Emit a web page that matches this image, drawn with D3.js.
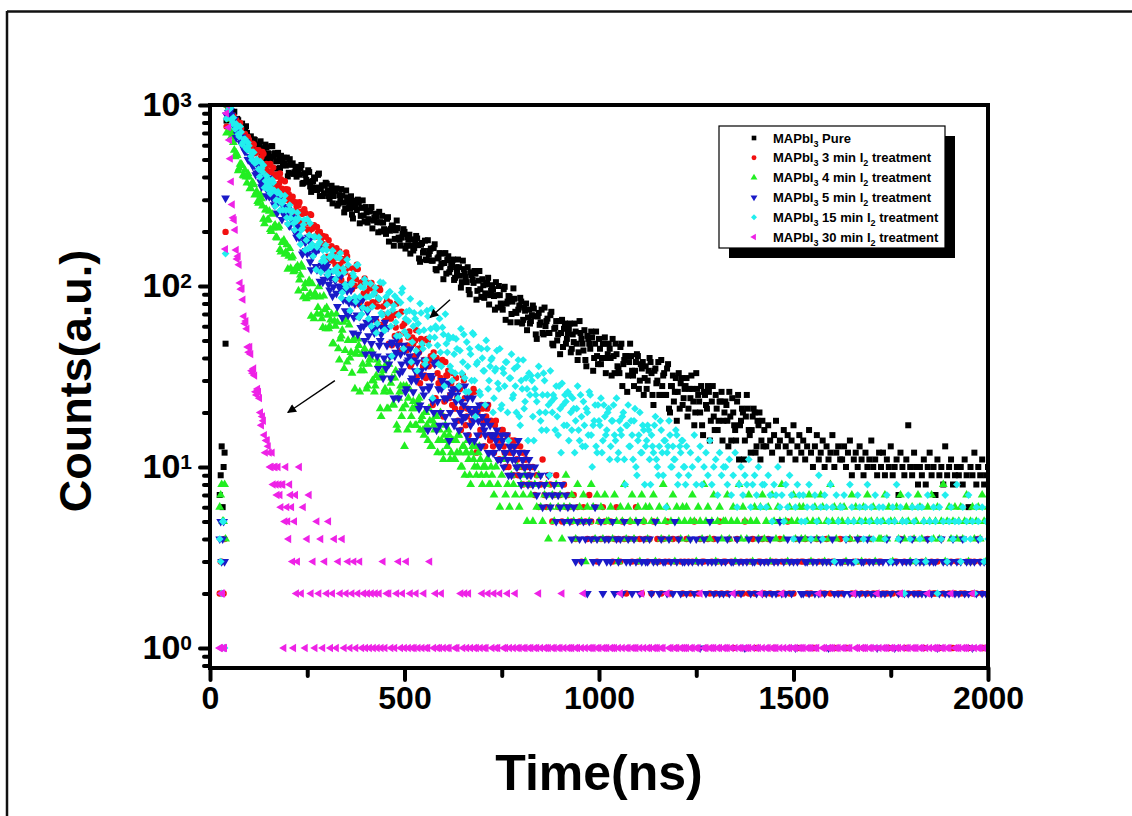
<!DOCTYPE html>
<html lang="en">
<head>
<meta charset="UTF-8" />
<title>TRPL decay of MAPbI3 films</title>
<script src="https://cdn.jsdelivr.net/npm/d3@7"></script>
<style>
  body { margin: 0; background: #fff; }
  svg { display: block; font-family: "Liberation Sans", Arial, Helvetica, sans-serif; }
</style>
</head>
<body>
<div id="chart"></div>
<script>
// channel times (ns), even channels
const timeNs = [
  25,30,35,40,45,50,55,60,65,70,75,80,85,90,95,100,105,110,115,120,
  125,130,135,140,145,150,155,160,165,170,175,180,185,190,195,200,205,210,215,220,
  225,230,235,240,245,250,255,260,265,270,275,280,285,290,295,300,305,310,315,320,
  325,330,335,340,345,350,355,360,365,370,375,380,385,390,395,400,405,410,415,420,
  425,430,435,440,445,450,455,460,465,470,475,480,485,490,495,500,505,510,515,520,
  525,530,535,540,545,550,555,560,565,570,575,580,585,590,595,600,605,610,615,620,
  625,630,635,640,645,650,655,660,665,670,675,680,685,690,695,700,705,710,715,720,
  725,730,735,740,745,750,755,760,765,770,775,780,785,790,795,800,805,810,815,820,
  825,830,835,840,845,850,855,860,865,870,875,880,885,890,895,900,905,910,915,920,
  925,930,935,940,945,950,955,960,965,970,975,980,985,990,995,1000,1005,1010,1015,1020,
  1025,1030,1035,1040,1045,1050,1055,1060,1065,1070,1075,1080,1085,1090,1095,1100,1105,1110,1115,1120,
  1125,1130,1135,1140,1145,1150,1155,1160,1165,1170,1175,1180,1185,1190,1195,1200,1205,1210,1215,1220,
  1225,1230,1235,1240,1245,1250,1255,1260,1265,1270,1275,1280,1285,1290,1295,1300,1305,1310,1315,1320,
  1325,1330,1335,1340,1345,1350,1355,1360,1365,1370,1375,1380,1385,1390,1395,1400,1405,1410,1415,1420,
  1425,1430,1435,1440,1445,1450,1455,1460,1465,1470,1475,1480,1485,1490,1495,1500,1505,1510,1515,1520,
  1525,1530,1535,1540,1545,1550,1555,1560,1565,1570,1575,1580,1585,1590,1595,1600,1605,1610,1615,1620,
  1625,1630,1635,1640,1645,1650,1655,1660,1665,1670,1675,1680,1685,1690,1695,1700,1705,1710,1715,1720,
  1725,1730,1735,1740,1745,1750,1755,1760,1765,1770,1775,1780,1785,1790,1795,1800,1805,1810,1815,1820,
  1825,1830,1835,1840,1845,1850,1855,1860,1865,1870,1875,1880,1885,1890,1895,1900,1905,1910,1915,1920,
  1925,1930,1935,1940,1945,1950,1955,1960,1965,1970,1975,1980,1985,1990,1995,2000
];
// odd channels, read in the decay part only
const timeNsOdd = [
  27.5,32.5,37.5,42.5,47.5,52.5,57.5,62.5,67.5,72.5,77.5,82.5,87.5,92.5,97.5,102.5,107.5,112.5,117.5,122.5,
  127.5,132.5,137.5,142.5,147.5,152.5,157.5,162.5,167.5,172.5,177.5,182.5,187.5,192.5,197.5,202.5,207.5,212.5,217.5,222.5,
  227.5,232.5,237.5,242.5,247.5,252.5,257.5,262.5,267.5,272.5,277.5,282.5,287.5,292.5,297.5,302.5,307.5,312.5,317.5,322.5,
  327.5,332.5,337.5,342.5,347.5,352.5,357.5,362.5,367.5,372.5,377.5,382.5,387.5,392.5,397.5,402.5,407.5,412.5,417.5,422.5,
  427.5,432.5,437.5,442.5,447.5,452.5,457.5,462.5,467.5,472.5,477.5,482.5,487.5,492.5,497.5,502.5,507.5,512.5,517.5,522.5,
  527.5,532.5,537.5,542.5,547.5,552.5,557.5,562.5,567.5,572.5,577.5,582.5,587.5,592.5,597.5,602.5,607.5,612.5,617.5,622.5,
  627.5,632.5,637.5,642.5,647.5,652.5,657.5,662.5,667.5,672.5,677.5,682.5,687.5,692.5,697.5,702.5,707.5,712.5,717.5,722.5,
  727.5,732.5,737.5,742.5,747.5,752.5,757.5,762.5,767.5,772.5,777.5,782.5,787.5,792.5,797.5,802.5,807.5,812.5,817.5,822.5,
  827.5,832.5,837.5,842.5,847.5,852.5,857.5,862.5,867.5,872.5,877.5,882.5,887.5,892.5,897.5,902.5,907.5,912.5,917.5,922.5,
  927.5,932.5,937.5,942.5,947.5,952.5,957.5,962.5,967.5,972.5,977.5,982.5,987.5,992.5,997.5,1002.5,1007.5,1012.5,1017.5,1022.5,
  1027.5,1032.5,1037.5,1042.5,1047.5,1052.5,1057.5,1062.5,1067.5,1072.5,1077.5,1082.5,1087.5,1092.5,1097.5,1102.5,1107.5,1112.5,1117.5,1122.5,
  1127.5,1132.5,1137.5,1142.5,1147.5,1152.5,1157.5,1162.5,1167.5,1172.5,1177.5,1182.5,1187.5,1192.5,1197.5,1202.5,1207.5,1212.5,1217.5,1222.5,
  1227.5,1232.5,1237.5,1242.5,1247.5,1252.5,1257.5,1262.5,1267.5,1272.5,1277.5,1282.5,1287.5,1292.5,1297.5,1302.5,1307.5,1312.5,1317.5,1322.5,
  1327.5,1332.5,1337.5,1342.5,1347.5,1352.5,1357.5,1362.5,1367.5,1372.5,1377.5,1382.5,1387.5,1392.5,1397.5,1402.5,1407.5,1412.5,1417.5,1422.5
];

// counts per channel, one array per sample
const countsPure = [
  7,13,10,48,1000,978,884,905,812,838,741,772,690,748,701,652,671,605,641,588,
  565,630,577,498,584,541,499,592,536,488,544,448,489,511,463,403,502,468,416,442,
  456,412,466,371,411,376,426,331,380,392,339,418,344,314,359,367,314,335,286,335,
  346,285,300,316,255,337,294,267,248,296,272,300,222,270,245,273,224,258,273,230,
  251,225,257,200,224,203,235,176,207,214,182,230,185,167,194,199,167,180,151,181,
  162,189,168,136,173,156,140,179,156,138,162,124,142,152,133,109,152,139,119,131,
  140,111,118,127,98,138,117,105,95,119,108,121,84,107,96,109,86,102,111,89,
  101,88,105,76,89,79,96,65,82,87,70,97,72,63,78,82,65,73,57,74,
  64,78,68,51,71,63,55,76,64,55,69,48,58,64,54,42,65,58,48,55,
  62,45,49,56,39,64,51,44,39,53,48,56,34,48,41,51,37,48,52,40,
  48,40,51,33,42,35,46,28,39,41,32,48,34,28,38,41,30,35,25,36,
  30,40,33,22,35,30,25,39,32,25,35,21,28,32,26,18,33,29,22,27,
  31,21,24,27,17,33,25,20,17,26,22,28,14,23,19,25,16,23,26,18,
  23,18,26,14,20,16,23,11,18,20,14,25,16,12,19,20,13,17,11,18,
  16,13,17,14,12,15,18,13,14,11,16,13,15,12,14,17,11,13,15,12,
  14,11,13,16,12,10,13,15,11,12,14,10,13,11,12,15,10,12,13,11,
  11,13,10,12,14,9,11,12,10,13,11,9,12,10,11,14,10,11,9,12,
  10,12,9,11,10,13,9,10,11,7,12,10,9,11,17,10,9,12,10,8,
  10,9,11,8,10,12,9,10,7,11,9,10,8,13,9,10,11,8,9,10,
  9,10,8,11,9,6,10,9,12,8,10,9,11,8,9,10
];
const countsPureOdd = [
  9,6,12,820,936,978,900,918,764,824,764,789,697,763,641,662,616,646,560,596,
  605,517,569,604,530,503,593,518,542,445,515,524,465,474,512,422,469,476,425,402,
  429,449,367,420,385,436,355,377,398,350,411,314,360,325,372,337,303,358,314,335,
  278,318,343,289,268,309,284,313,236,287,263,290,244,297,227,255,234,261,208,238,
  242,198,225,244,206,194,240,202,216,167,203,209,180,185,206,161,186,192,167,157,
  171,183,142,169,153,178,139,149,161,138,170,122,144,127,151,134,117,146,124,135,
  108,127,140,114,105,124,112,127,90,115,104,117,94,121,87,101,91,104,79,94,
  96,74,89,100,80,74,99,80,88,63,82,85,71,74,86,62,76,80,67,62,
  69,75,54,68,61,74,54,60,66,55,72,47,59,50,64,55,46,62,51,58,
  43,54,62,48,43,55,48,57,36,51,45,52,40,56,37,45,40,48,33,42,
  45,32,41,48,36,33,48,37,41,26,38,41,32,34,42,27,37,38,31,27,
  34,38,25,34,29,38,25,28,33,25,37,20,28,23,31,26,21,31,24,28,
  19,27,32,23,20,27,23,28,15,25,21,26,18,28,16,21,18,23,14,20,
  22,13,19,24,17,14,25,17,21,11,19,21,15,16,21,12,18,20,14,13
];
const counts3min = [
  2,3,2,199,1000,941,862,873,781,802,728,741,668,693,617,644,579,612,541,562,
  563,505,550,441,472,431,472,370,409,412,356,418,345,312,343,342,292,302,258,290,
  256,290,257,209,253,226,201,247,214,187,212,163,181,189,164,136,179,162,138,149,
  162,122,131,141,102,153,126,109,96,124,109,124,79,105,91,106,79,97,104,81,
  95,77,98,61,77,64,83,48,66,70,53,80,54,44,60,62,44,52,36,52,
  41,57,45,29,48,39,31,50,39,31,43,24,33,38,29,19,38,32,24,29,
  33,21,24,28,16,32,24,19,15,25,20,26,12,21,16,21,13,19,22,14,
  15,12,18,14,11,16,13,10,15,12,14,9,13,11,10,12,8,11,10,9,
  8,10,7,9,6,8,11,7,6,9,8,5,7,9,6,7,5,8,6,7,
  6,5,7,4,6,5,3,6,5,4,7,5,4,6,3,5,4,6,5,4,
  4,5,3,4,6,4,3,5,4,2,4,5,3,4,6,3,4,2,5,4,
  3,4,2,5,3,4,3,2,4,3,5,3,2,4,3,1,4,3,2,3,
  4,3,2,3,5,3,2,4,3,3,1,4,2,3,4,2,3,5,2,3,
  3,2,4,3,1,3,4,2,3,2,5,3,2,3,4,2,1,3,3,4,
  2,3,4,2,3,1,3,2,4,3,2,3,5,2,3,2,4,3,1,3,
  3,4,2,3,2,3,1,4,3,2,3,2,4,3,2,3,3,1,2,4,
  2,3,3,1,4,2,3,2,3,4,2,1,3,2,3,4,2,3,2,3,
  3,2,4,2,1,3,2,3,3,2,4,2,3,1,2,3,4,2,3,2,
  2,3,1,3,4,2,3,2,2,3,1,4,2,3,3,2,3,1,2,3,
  3,2,4,2,3,1,3,2,3,2,4,3,2,1,3,2
];
const counts3minOdd = [
  3,2,4,760,946,968,822,826,827,742,797,652,688,626,665,610,558,604,544,556,
  477,517,537,460,427,467,427,451,354,402,368,389,332,379,300,321,292,311,255,277,
  278,224,250,266,222,205,249,207,217,165,197,199,168,170,187,145,164,166,142,131,
  144,155,108,138,119,146,102,114,125,100,131,81,104,86,110,92,76,102,81,91,
  64,84,95,70,61,80,68,81,47,69,59,70,50,72,44,55,47,56,37,48,
  50,32,43,51,36,32,51,36,41,22,37,40,29,31,39,23,32,34,25,22,
  27,31,18,27,21,30,17,21,25,18,27,13,20,15,22,18,13,21,15,18,
  13,17,15,11,14,16,12,15,10,13,12,14,11,9,13,10,12,11,8,10
];
const counts4min = [
  6,8,5,4,1000,835,671,622,518,526,447,471,409,436,371,401,346,372,318,333,
  287,319,277,221,264,233,205,249,214,186,209,159,174,179,154,124,161,143,120,125,
  129,108,131,87,103,87,107,68,87,91,70,99,70,59,74,76,58,65,48,64,
  70,45,51,57,35,65,50,40,33,51,42,51,26,42,34,42,28,39,44,30,
  28,39,31,19,34,27,21,37,29,22,31,17,24,28,21,13,28,24,17,21,
  21,17,23,16,19,15,20,14,18,13,17,19,12,16,14,11,17,13,15,12,
  14,11,12,15,10,13,9,12,11,8,13,10,9,12,11,8,10,9,11,8,
  9,7,10,8,6,9,11,7,8,6,9,8,7,10,6,8,7,9,5,8,
  7,5,8,6,9,6,5,7,8,4,6,7,5,8,6,7,4,6,9,5,
  6,7,5,4,8,6,5,7,3,6,5,8,6,4,7,5,6,4,7,5,
  5,6,4,7,5,3,6,5,8,4,6,5,7,4,5,6,3,7,5,6,
  4,6,5,7,3,5,6,4,8,5,6,4,5,7,3,6,5,4,6,5,
  6,4,5,7,5,3,6,5,4,8,5,6,4,5,7,3,5,6,4,5,
  5,7,4,5,6,3,5,8,4,6,5,4,7,5,3,6,5,4,6,7,
  4,5,6,3,7,5,4,6,5,8,4,5,3,6,5,7,4,5,6,4,
  6,4,5,7,3,5,6,4,5,7,6,3,5,4,8,5,6,4,5,6,
  5,6,3,5,4,7,5,6,4,5,3,6,5,7,4,5,6,3,5,4,
  4,5,7,4,6,5,3,5,6,4,7,5,4,6,5,3,6,4,5,7,
  6,4,5,3,6,5,7,4,5,6,4,5,8,3,5,6,4,5,6,4,
  5,6,4,5,7,3,5,6,4,5,6,4,7,5,3,6
];
const counts4minOdd = [
  7,5,8,700,873,714,701,563,542,433,471,464,405,400,418,345,369,363,320,293,
  298,304,234,263,231,259,200,209,217,184,214,154,175,150,169,146,125,146,122,125,
  94,115,127,97,85,104,91,103,66,88,76,87,66,88,58,69,60,70,48,60,
  63,39,53,63,44,38,61,43,50,27,44,47,34,37,45,27,37,40,30,26,
  32,37,21,32,26,37,21,26,31,22,34,16,26,19,28,22,16,27,19,23,
  17,22,24,18,16,20,17,21,13,18,16,19,14,20,12,15,14,16,11,14,
  11,14,15,12,10,13,12,14,9,12,11,13,10,13,9,10,10,11,8,10
];
const counts5min = [
  4,3,5,306,1000,903,881,772,768,688,694,612,627,553,571,497,518,461,479,421,
  457,376,384,390,315,395,341,307,281,322,292,311,233,272,245,265,215,235,240,199,
  214,184,213,154,174,151,178,123,148,152,123,160,121,105,126,128,102,110,88,109,
  91,116,96,67,99,84,69,102,82,67,85,54,68,76,60,42,72,62,48,57,
  66,41,47,54,31,63,47,37,31,49,41,51,24,42,34,44,27,39,45,31,
  39,30,42,22,32,25,36,16,28,31,20,38,23,17,27,29,19,24,14,25,
  27,18,25,16,23,19,28,15,21,17,24,14,20,18,13,19,16,22,12,17,
  15,12,14,11,13,15,10,12,11,13,9,12,11,10,12,8,11,10,9,11,
  9,8,10,7,8,9,6,8,7,9,6,7,8,5,7,6,8,5,7,6,
  5,4,6,3,5,4,3,5,4,2,5,4,3,6,4,3,5,2,4,3,
  4,3,5,2,4,3,4,2,5,3,4,3,2,4,3,5,2,3,4,3,
  3,4,2,3,5,3,2,4,3,3,2,4,3,2,5,3,4,2,3,3,
  2,3,4,3,2,4,3,1,3,4,2,3,5,3,2,3,4,2,3,2,
  3,4,2,3,3,2,4,3,2,3,1,3,4,2,3,3,2,4,3,2,
  3,2,3,4,2,3,2,3,5,2,3,2,4,3,2,3,1,3,4,2,
  2,3,3,2,4,3,2,3,2,4,3,2,3,1,3,4,2,3,2,3,
  3,2,4,3,2,3,3,2,4,2,3,3,2,4,3,2,3,2,1,3,
  2,3,2,4,3,2,3,1,3,2,4,3,2,3,2,3,4,2,3,2,
  3,2,3,2,4,3,2,3,3,1,2,4,3,2,3,2,3,4,2,3,
  2,3,4,2,3,2,3,1,3,2,4,3,2,3,2,3
];
const counts5minOdd = [
  5,4,3,880,908,933,830,835,660,715,647,666,570,626,500,519,475,495,412,435,
  432,353,384,400,337,312,369,311,322,253,294,295,253,255,275,217,237,235,201,186,
  196,206,150,181,157,186,136,146,157,128,160,106,130,109,132,113,95,121,99,108,
  77,100,114,84,73,94,81,95,55,80,69,82,59,84,50,63,53,65,42,55,
  59,35,50,59,40,35,59,41,48,24,43,47,33,37,47,26,38,41,30,26,
  34,38,21,34,27,39,21,27,32,23,37,16,27,20,30,24,17,29,20,26,
  17,23,27,20,18,22,19,24,14,20,18,21,15,22,13,17,15,18,12,15,
  12,15,16,13,11,14,12,15,9,13,11,13,10,14,9,11,10,12,8,10
];
const counts15min = [
  4,2,5,151,1000,948,832,851,738,759,668,709,622,648,567,596,521,549,478,501,
  442,486,427,349,406,362,324,386,338,298,332,262,286,297,262,220,280,256,222,234,
  254,190,204,218,158,234,191,164,146,187,164,186,119,158,137,158,119,145,157,122,
  144,117,152,92,119,98,131,73,105,113,82,131,87,70,98,104,74,87,60,90,
  98,62,85,71,104,57,79,92,60,74,88,53,69,81,97,56,72,64,85,49,
  71,44,62,80,48,57,39,68,52,75,41,60,47,66,36,54,70,43,51,34,
  52,33,45,28,58,38,31,49,26,42,55,30,37,46,25,40,34,50,27,36,
  40,24,35,29,45,22,33,38,20,31,42,25,28,36,19,30,39,23,27,33,
  32,19,27,23,36,18,25,30,16,22,34,20,24,28,15,21,29,17,23,26,
  25,16,21,18,28,14,19,23,13,20,26,15,17,22,12,18,24,14,19,16,
  21,13,18,15,24,12,16,19,11,17,22,13,15,18,10,14,20,12,16,13,
  17,11,15,12,19,10,13,16,9,14,12,18,10,13,11,15,9,12,14,10,
  13,9,12,10,15,8,11,13,8,10,12,9,14,8,10,11,7,12,9,10,
  10,8,11,7,9,12,6,8,10,7,9,8,11,6,8,9,7,10,6,8,
  8,6,9,7,5,8,7,10,6,7,5,8,6,9,7,4,6,8,7,5,
  7,5,6,8,4,6,7,5,9,6,4,7,6,5,8,6,3,7,5,6,
  6,7,4,5,8,6,5,3,7,6,5,4,6,8,5,6,4,7,5,6,
  5,6,4,7,5,3,6,5,8,4,6,5,2,5,7,4,6,5,3,6,
  4,6,5,3,7,5,4,6,5,2,6,4,5,7,3,5,6,4,5,8,
  5,3,6,4,5,7,4,5,2,6,5,4,6,3,5,4
];
const counts15minOdd = [
  3,5,1,840,942,965,790,790,786,689,760,605,646,578,620,557,497,547,481,490,
  401,445,465,380,343,384,346,373,276,327,295,319,263,316,238,263,237,259,204,229,
  236,170,208,232,179,161,222,170,187,123,169,175,137,144,168,115,144,149,121,109,
  127,143,86,125,102,140,85,102,117,87,130,67,99,76,109,87,66,103,77,92,
  55,86,105,69,57,87,71,93,41,78,63,84,53,92,45,66,53,73,38,60,
  66,34,56,71,45,37,73,47,58,24,52,58,37,43,59,28,48,53,36,30,
  42,51,24,44,33,54,26,36,45,30,54,19,38,26,45,34,22,45,30,39,
  20,34,44,27,21,35,28,38,14,31,24,35,20,39,17,27,21,31,14,25,
  30,14,25,32,20,16,33,20,25,9,23,25,16,19,28,12,22,25,17,14,
  20,24,12,21,16,25,13,17,21,15,25,10,18,13,22,17,12,22,15,20,
  11,18,22,14,11,18,15,20,8,17,13,18,11,21,9,15,12,17,8,14,
  16,8,13,17,11,9,18,12,14,6,13,15,10,11,16,8,13,14,10,8
];
const counts30min = [
  1,2,1,160,1000,640,377,238,204,141,131,96,84,62,58,43,42,33,32,25,
  26,20,19,15,14,13,10,12,10,8,10,7,8,1,10,5,8,6,1,7,
  3,10,2,6,1,4,7,2,3,1,5,2,4,1,3,2,5,1,2,4,
  1,3,2,4,1,2,3,1,2,3,1,2,3,1,2,1,2,1,2,1,
  2,1,2,1,3,1,2,2,1,0,1,2,3,1,2,1,3,1,2,1,
  1,2,1,0,1,2,1,1,3,0,1,2,1,1,2,1,0,1,1,0,
  0,1,1,0,2,1,2,1,2,1,0,1,1,0,1,2,1,1,2,0,
  1,2,1,1,2,0,1,1,2,1,0,1,2,1,1,0,1,1,0,1,
  1,0,1,1,2,1,0,1,1,1,0,1,1,0,1,1,2,1,0,1,
  1,1,0,1,1,0,1,2,1,0,1,1,1,0,1,1,0,1,1,1,
  0,1,1,1,0,1,2,1,0,1,1,0,1,1,1,0,1,2,1,0,
  1,1,0,1,1,1,0,1,1,0,2,1,1,0,1,1,0,1,1,1,
  1,0,1,1,0,1,1,2,0,1,1,0,1,1,1,0,1,1,0,1,
  1,1,0,1,2,1,0,1,1,0,1,1,1,0,1,0,1,1,2,1,
  0,1,1,0,1,1,1,0,1,2,1,0,1,1,0,1,1,0,1,1,
  1,0,1,1,1,0,1,1,2,0,1,1,0,1,1,1,0,1,1,0,
  1,1,0,1,1,0,2,1,1,0,1,1,1,0,1,1,0,1,2,1,
  0,1,1,1,0,1,1,0,1,1,2,1,0,1,1,0,1,1,1,0,
  1,1,0,1,2,1,0,1,1,1,0,1,1,0,1,1,2,0,1,1,
  1,0,1,1,1,0,1,2,1,0,1,1,0,1,1,1
];
const counts30minOdd = [
  1,2,1,900,752,505,282,231,158,146,104,97,68,64,46,46,34,35,26,27,
  24,17,18,12,14,12,10,8,10,7,8,6,8,5,6,4,7,3,5,2
];

const sampleLabels = ["Pure", "3 min", "4 min", "5 min", "15 min", "30 min"];
const xTicks = [0, 500, 1000, 1500, 2000];
const xMinorTicks = [250, 750, 1250, 1750];
const yTicks = [1, 10, 100, 1000];
const yMinorTicks = [0.8, 0.9, 2, 3, 4, 5, 6, 7, 8, 9, 20, 30, 40, 50, 60, 70, 80, 90,
                     200, 300, 400, 500, 600, 700, 800, 900];
// arrows: [t0, c0, t1, c1]
const arrows = [[617, 84, 566, 67], [321, 30, 200, 20]];

const w = 1132, h = 816;
const pLeft = 210, pRight = 988, pTop = 105, pBottom = 668;
const font = '"Liberation Sans", Arial, Helvetica, sans-serif';

const xScale = d3.scaleLinear().domain([0, 2000]).range([pLeft, pRight]);
const yScale = d3.scaleLog().domain([0.775, 1000]).range([pBottom, pTop]);

const svg = d3.select("#chart").append("svg")
  .attr("width", w).attr("height", h);

// cropped page frame
svg.append("line").attr("x1", 7).attr("y1", 11.5).attr("x2", w).attr("y2", 11.5)
  .attr("stroke", "#111").attr("stroke-width", 2.5);
svg.append("line").attr("x1", 7).attr("y1", 11).attr("x2", 7).attr("y2", h)
  .attr("stroke", "#111").attr("stroke-width", 2.5);

const defs = svg.append("defs");
defs.append("clipPath").attr("id", "plotClip").append("rect")
  .attr("x", pLeft).attr("y", pTop).attr("width", pRight - pLeft).attr("height", pBottom - pTop);
defs.append("marker").attr("id", "head")
  .attr("viewBox", "0 0 10 10").attr("refX", 9).attr("refY", 5)
  .attr("markerUnits", "userSpaceOnUse")
  .attr("markerWidth", 13).attr("markerHeight", 9).attr("orient", "auto")
  .append("path").attr("d", "M0,0 L10,5 L0,10 z").attr("fill", "#000");

const series = [
  { counts: countsPure,  odd: countsPureOdd,  color: "#000000", type: d3.symbolSquare,   size: 36, rot: 0 },
  { counts: counts3min,  odd: counts3minOdd,  color: "#f21010", type: d3.symbolCircle,   size: 32, rot: 0 },
  { counts: counts4min,  odd: counts4minOdd,  color: "#22ee22", type: d3.symbolTriangle, size: 34, rot: 0 },
  { counts: counts5min,  odd: counts5minOdd,  color: "#1a1ac8", type: d3.symbolTriangle, size: 34, rot: 180 },
  { counts: counts15min, odd: counts15minOdd, color: "#22eeee", type: d3.symbolSquare,   size: 30, rot: 45 },
  { counts: counts30min, odd: counts30minOdd, color: "#ee22e6", type: d3.symbolTriangle, size: 30, rot: -90 }
];

//Plots
const plot = svg.append("g").attr("clip-path", "url(#plotClip)");
series.forEach(s => {
  const even = timeNs.map((t, i) => ({ t: t, c: s.counts[i] }));
  const odd = s.odd.map((c, i) => ({ t: timeNsOdd[i], c: c }));
  const pts = even.concat(odd).filter(d => d.c > 0);
  plot.append("g").selectAll("path")
    .data(pts)
    .enter()
    .append("path")
    .attr("d", d3.symbol().type(s.type).size(s.size))
    .attr("transform", d => "translate(" + xScale(d.t) + "," + yScale(d.c) + ") rotate(" + s.rot + ")")
    .attr("fill", s.color);
});

// arrows
svg.selectAll(".arrow")
  .data(arrows)
  .enter()
  .append("line")
  .attr("x1", d => xScale(d[0])).attr("y1", d => yScale(d[1]))
  .attr("x2", d => xScale(d[2])).attr("y2", d => yScale(d[3]))
  .attr("stroke", "#000").attr("stroke-width", 1.4)
  .attr("marker-end", "url(#head)");

// frame
svg.append("rect")
  .attr("x", pLeft).attr("y", pTop).attr("width", pRight - pLeft).attr("height", pBottom - pTop)
  .attr("fill", "none").attr("stroke", "#000").attr("stroke-width", 4);

function styleAxis(g, width) {
  g.select(".domain").remove();
  g.selectAll(".tick line").attr("stroke", "#000").attr("stroke-width", width).attr("stroke-linecap", "round");
  g.attr("font-family", font).attr("font-weight", "bold");
}

//Creating the Axis
const xAxis = svg.append("g")
  .attr("transform", "translate(0," + pBottom + ")")
  .call(d3.axisBottom(xScale).tickValues(xTicks).tickSize(12).tickPadding(6).tickFormat(d3.format("d")));
styleAxis(xAxis, 4);
xAxis.attr("font-size", 32);
xAxis.selectAll(".tick text").attr("fill", "#000");

const xMinor = svg.append("g")
  .attr("transform", "translate(0," + pBottom + ")")
  .call(d3.axisBottom(xScale).tickValues(xMinorTicks).tickSize(8).tickFormat(""));
styleAxis(xMinor, 4);

const yAxis = svg.append("g")
  .attr("transform", "translate(" + pLeft + ",0)")
  .call(d3.axisLeft(yScale).tickValues(yTicks).tickSize(10).tickPadding(8).tickFormat(() => "10"));
styleAxis(yAxis, 4);
yAxis.attr("font-size", 34);
yAxis.selectAll(".tick text").attr("fill", "#000")
  .append("tspan").attr("dy", "-0.45em").attr("font-size", 21)
  .text(d => Math.round(Math.log10(d)));

const yMinor = svg.append("g")
  .attr("transform", "translate(" + pLeft + ",0)")
  .call(d3.axisLeft(yScale).tickValues(yMinorTicks).tickSize(6).tickFormat(""));
styleAxis(yMinor, 4);

// axis titles
svg.append("text")
  .attr("x", (pLeft + pRight) / 2).attr("y", 790)
  .attr("text-anchor", "middle")
  .attr("font-family", font).attr("font-weight", "bold").attr("font-size", 50)
  .text("Time(ns)");
svg.append("text")
  .attr("transform", "translate(91,381) rotate(-90)")
  .attr("text-anchor", "middle")
  .attr("font-family", font).attr("font-weight", "bold").attr("font-size", 45)
  .text("Counts(a.u.)");

// legend
const legend = svg.append("g");
legend.append("rect").attr("x", 729).attr("y", 136).attr("width", 226).attr("height", 122).attr("fill", "#000");
legend.append("rect").attr("x", 719).attr("y", 126).attr("width", 226).attr("height", 122)
  .attr("fill", "#fff").attr("stroke", "#000").attr("stroke-width", 1.2);

sampleLabels.forEach((lab, i) => {
  const ry = 138 + i * 19.8;
  const s = series[i];
  legend.append("path")
    .attr("d", d3.symbol().type(s.type).size(s.size * 0.6))
    .attr("transform", "translate(754," + ry + ") rotate(" + s.rot + ")")
    .attr("fill", s.color);
  const t = legend.append("text")
    .attr("x", 773).attr("y", ry + 4.5)
    .attr("font-family", font).attr("font-weight", "bold").attr("font-size", 13)
    .attr("fill", "#000");
  t.append("tspan").text("MAPbI");
  t.append("tspan").attr("font-size", 9).attr("dy", 4).text("3");
  if (lab === "Pure") {
    t.append("tspan").attr("dy", -4).text(" Pure");
  } else {
    t.append("tspan").attr("dy", -4).text(" " + lab + " I");
    t.append("tspan").attr("font-size", 9).attr("dy", 4).text("2");
    t.append("tspan").attr("dy", -4).text(" treatment");
  }
});
</script>
</body>
</html>
